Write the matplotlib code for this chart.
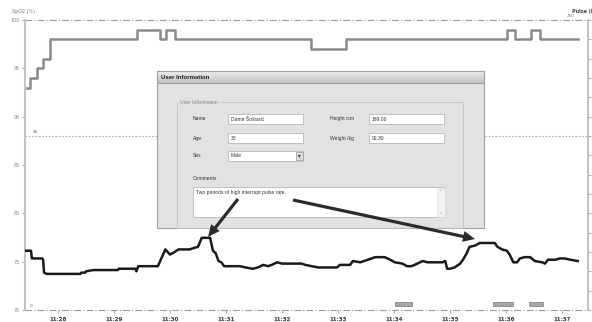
import numpy as np
import matplotlib.pyplot as plt
from matplotlib.patches import Rectangle, FancyArrow

# time in seconds after 11:27:00
spo2_t = [25, 30, 37, 44, 51, 145, 169, 176, 185, 331, 369, 541, 550, 567, 577, 617]
spo2 = [93, 94, 95, 96, 98, 99, 98, 99, 98, 97, 98, 99, 98, 99, 98, 98]

pulse_t = [25, 31, 32, 43, 44, 45, 48, 84, 85, 89, 90, 98, 124, 125, 143, 144, 146,
           167, 175, 180, 185, 189, 201, 205, 210, 214, 223, 226, 229, 232, 235, 238,
           255, 261, 269, 274, 280, 285, 289, 295, 300, 321, 325, 332, 339, 346, 359,
           362, 373, 376, 384, 392, 400, 410, 416, 421, 429, 434, 439, 445, 451, 456,
           472, 475, 477, 480, 485, 491, 494, 498, 501, 507, 512, 528, 531, 536, 541,
           544, 548, 552, 555, 560, 566, 571, 579, 582, 585, 593, 598, 603, 609, 617]
pulse = [71, 71, 65, 65, 64, 54, 53, 53, 54, 54, 55, 56, 56, 57, 57, 55, 59,
         59, 72, 68, 70, 72, 72, 73, 74, 81, 81, 71, 69, 63, 62, 59,
         59, 58, 57, 58, 60, 59, 60, 62, 61, 61, 60, 59, 58, 58, 58,
         60, 60, 63, 62, 64, 66, 66, 64, 62, 61, 59, 59, 61, 63, 62,
         62, 63, 57, 57, 58, 61, 64, 69, 74, 75, 77, 77, 74, 72, 71,
         68, 62, 62, 65, 66, 66, 63, 62, 61, 64, 64, 65, 65, 64, 63]

events = [(421, 439), (526, 548), (565, 580)]
time_labels = ['11:28', '11:29', '11:30', '11:31', '11:32',
               '11:33', '11:34', '11:35', '11:36', '11:37']

spo2_ticks = [70, 75, 80, 85, 90, 95, 100]
pulse_ticks = list(range(25, 251, 15))

fig = plt.figure(figsize=(5.92, 3.22), dpi=100)
fig.patch.set_facecolor('white')

ax = fig.add_axes([25 / 592, 12 / 322, 563 / 592, 290 / 322])
ax.set_facecolor('none')
ax.set_xlim(24.6, 628)
ax.set_ylim(70, 100)

tick_pos = [(int(s[3:]) - 27) * 60 for s in time_labels]
ax.set_xticks(tick_pos)
ax.set_xticklabels(time_labels, fontsize=4, fontweight='bold', color='#333333')
ax.set_yticks(spo2_ticks)
ax.set_yticklabels([str(v) for v in spo2_ticks], fontsize=3.5, color='#888888')
ax.tick_params(axis='x', length=2, color='#aaaaaa', pad=3)
ax.tick_params(axis='y', length=2, color='#aaaaaa', pad=2)
for s in ['top', 'bottom', 'right']:
    ax.spines[s].set_visible(False)
ax.spines['left'].set_color('#c4c4c4')
ax.spines['left'].set_linewidth(1.5)

# limit lines
dashdot = (0, (6, 2, 1, 2))
ax.axhline(100, color='#9a9a9a', lw=0.8, ls=dashdot, clip_on=False)
ax.axhline(70, color='#9a9a9a', lw=0.8, ls=dashdot, clip_on=False)
ax.axhline(88, color='#aaaaaa', lw=0.8, ls=(0, (1.5, 1.5)))
ax.text(33, 88.2, '88', fontsize=3, color='#777777', va='bottom')
ax.text(29, 70.2, '70', fontsize=3, color='#999999', va='bottom')
ax.text(605, 100.2, '250', fontsize=3, color='#777777', va='bottom')

# SpO2 trace
ax.plot(spo2_t, spo2, drawstyle='steps-post', color='#8a8a8a', lw=1.8,
        solid_joinstyle='round')

# event markers
ax.broken_barh([(a, b - a) for a, b in events], (70.4, 0.45),
               facecolor='#a5a5a5', edgecolor='#7a7a7a', lw=0.5)

# pulse trace on right axis
ax2 = ax.twinx()
ax2.set_facecolor('none')
ax2.set_ylim(25, 250)
ax2.set_yticks(pulse_ticks)
ax2.set_yticklabels([str(v) for v in pulse_ticks], fontsize=3.5, color='#888888')
ax2.tick_params(axis='y', length=2, color='#aaaaaa', pad=1)
for s in ['top', 'bottom', 'left']:
    ax2.spines[s].set_visible(False)
ax2.spines['right'].set_color('#c4c4c4')
ax2.spines['right'].set_linewidth(1.5)
ax2.plot(pulse_t, pulse, color='#1a1a1a', lw=1.8, solid_joinstyle='round')

fig.text(12 / 592, 1 - 12 / 322, 'SpO2 (%)', fontsize=3.5, color='#777777', va='center')
fig.text(572 / 592, 1 - 12 / 322, 'Pulse (bpm)', fontsize=3.5, color='#444444',
         fontweight='bold', va='center')

# user information dialog drawn on a pixel-space overlay
ov = fig.add_axes([0, 0, 1, 1], zorder=10)
ov.set_xlim(0, 592)
ov.set_ylim(322, 0)
ov.axis('off')
ov.patch.set_alpha(0)

ui = dict(family='Liberation Sans', fontsize=3.6, color='#333333', va='center')

ov.add_patch(Rectangle((157, 71), 327, 157, facecolor='#e2e2e2',
                       edgecolor='#a0a0a0', lw=0.8))
grad = np.linspace(0.93, 0.76, 20).reshape(-1, 1)
ov.imshow(grad, cmap='gray', vmin=0, vmax=1, aspect='auto',
          extent=(157, 484, 83, 71), zorder=2)
ov.add_patch(Rectangle((157, 71), 327, 12, facecolor='none',
                       edgecolor='#a0a0a0', lw=0.8, zorder=3))
ov.text(161, 77.5, 'User Information', fontweight='bold', zorder=4,
        **{**ui, 'fontsize': 4.3, 'color': '#222222'})

ov.add_patch(Rectangle((177, 102), 286, 126, facecolor='none',
                       edgecolor='#c2c2c2', lw=0.6))
ov.text(180, 102, 'User Information', backgroundcolor='#e2e2e2',
        **{**ui, 'color': '#808080'})

fields = [('Name', 193, 118.5, 'Damir Šoštarić', 228, 114),
          ('Age', 193, 138, '30', 228, 133),
          ('Sex', 193, 155.5, 'Male', 228, 151),
          ('Height /cm', 330, 118.5, '189.00', 369, 114),
          ('Weight /kg', 330, 138, '92.30', 369, 133)]
for lab, lx, ly, val, bx, by in fields:
    ov.text(lx, ly, lab, **ui)
    h = 9.5 if lab == 'Sex' else 10
    ov.add_patch(Rectangle((bx, by), 75, h, facecolor='white',
                           edgecolor='#b8b8b8', lw=0.6))
    ov.text(bx + 3, by + h / 2, val, **ui)

ov.add_patch(Rectangle((295.5, 151.5), 7, 8.5, facecolor='#dcdcdc',
                       edgecolor='#999999', lw=0.5))
ov.text(299, 155.8, '▾', ha='center', **{**ui, 'family': 'DejaVu Sans', 'fontsize': 4})

ov.text(193, 178, 'Comments', **ui)
ov.add_patch(Rectangle((193, 187), 252, 30, facecolor='white',
                       edgecolor='#b8b8b8', lw=0.6))
ov.add_patch(Rectangle((437, 187.5), 7.5, 29, facecolor='#f2f2f2',
                       edgecolor='#dddddd', lw=0.4))
ov.text(440.8, 191, '^', ha='center', **{**ui, 'fontsize': 3, 'color': '#aaaaaa'})
ov.text(440.8, 213, 'v', ha='center', **{**ui, 'fontsize': 3, 'color': '#aaaaaa'})
ov.text(196, 192, 'Two periods of high interrupt pulse rate.', **ui)

# arrows pointing at the two pulse peaks
for x0, y0, x1, y1 in [(238, 199, 208, 237), (293, 200, 475, 239)]:
    ov.add_patch(FancyArrow(x0, y0, x1 - x0, y1 - y0, width=3.2,
                            head_width=11, head_length=12,
                            length_includes_head=True,
                            color='#2b2b2b', lw=0, zorder=6))

fig.savefig('out.png', dpi=100)
